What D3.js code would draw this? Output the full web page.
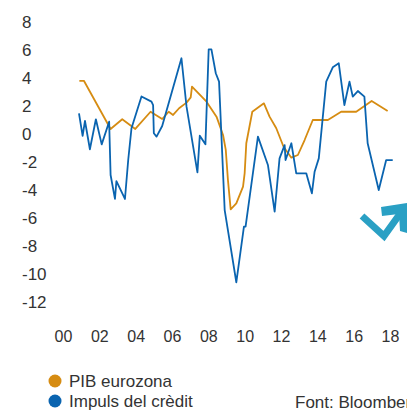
<!DOCTYPE html>
<html>
<head>
<meta charset="utf-8">
<script src="https://cdn.jsdelivr.net/npm/d3@7"></script>
<style>
    body { margin: 0; background: #fff; }
    #chart-area { width: 407px; height: 411px; overflow: hidden; }
    text { font-family: "Liberation Sans", Arial, sans-serif; fill: #333; }
</style>
</head>
<body>
<div id="chart-area"></div>
<script>

// Data (x = year, y = %)
const pibYears = [2000.90, 2001.15, 2002.62, 2003.26, 2003.98, 2004.82, 2005.46, 2005.82, 2006.06, 2006.39,
    2006.80, 2007.03, 2007.10, 2007.90, 2008.45, 2008.81, 2008.96, 2009.08, 2009.23, 2009.54,
    2009.91, 2010.00, 2010.09, 2010.42, 2011.06, 2011.37, 2011.74, 2012.14, 2012.57, 2012.93,
    2013.30, 2013.75, 2014.58, 2015.31, 2016.14, 2016.99, 2017.87];
const pibValues = [3.8, 3.8, 0.36, 1.05, 0.36, 1.59, 1.07, 1.59, 1.36, 1.84,
    2.24, 2.62, 3.38, 2.31, 1.24, -0.07, -1.14, -3.29, -5.38, -4.95,
    -3.76, -2.79, -0.66, 1.59, 2.19, 1.24, 0.41, -0.91, -1.69, -1.5,
    -0.43, 1.0, 1.0, 1.59, 1.59, 2.36, 1.64];

const creditYears = [2000.88, 2001.08, 2001.21, 2001.48, 2001.81, 2002.13, 2002.54, 2002.62, 2002.86, 2002.94,
    2003.41, 2003.59, 2003.77, 2004.32, 2004.87, 2004.96, 2005.00, 2005.15, 2005.46, 2006.52,
    2006.80, 2007.40, 2007.53, 2007.84, 2008.02, 2008.17, 2008.41, 2008.59, 2008.90, 2009.54,
    2009.96, 2010.05, 2010.73, 2011.28, 2011.65, 2011.92, 2012.20, 2012.25, 2012.57, 2012.84,
    2013.39, 2013.70, 2013.85, 2014.08, 2014.49, 2014.85, 2015.18, 2015.49, 2015.77, 2015.95,
    2016.23, 2016.59, 2016.77, 2017.38, 2017.79, 2018.15];
const creditValues = [1.48, -0.14, 0.93, -1.09, 1.05, -0.74, 0.88, -2.93, -4.64, -3.36,
    -4.64, -1.86, 0.41, 2.68, 2.31, 2.07, 0.05, -0.19, 0.57, 5.41,
    1.95, -2.74, -0.12, -0.74, 6.05, 6.05, 4.34, 3.74, -5.43, -10.59,
    -6.62, -6.62, -0.19, -2.21, -5.55, -1.74, -0.79, -1.86, -0.66, -2.81,
    -2.81, -4.24, -2.69, -1.74, 3.74, 4.76, 5.05, 2.07, 3.74, 2.67,
    3.07, 2.67, -0.66, -4.0, -1.86, -1.86];

const xTicks = [2000, 2002, 2004, 2006, 2008, 2010, 2012, 2014, 2016, 2018];
const xTickLabels = ["00", "02", "04", "06", "08", "10", "12", "14", "16", "18"];
const yTicks = [8, 6, 4, 2, 0, -2, -4, -6, -8, -10, -12];

const seriesNames = ["PIB eurozona", "Impuls del crèdit"];
const seriesColors = ["#d68c12", "#0a64b0"];
const sourceText = "Font: Bloomberg";


class LineChart {

    constructor(parentElement) {
        this.parentElement = parentElement;
        this.initVis();
    }

    initVis() {
        let vis = this;

        vis.width = 407;
        vis.height = 411;

        vis.svg = d3.select("#" + vis.parentElement).append("svg")
            .attr("width", vis.width)
            .attr("height", vis.height);

        // Scales
        vis.x = d3.scaleLinear()
            .domain([2000, 2018])
            .range([63, 390]);
        vis.y = d3.scaleLinear()
            .domain([-12, 8])
            .range([302, 22]);

        vis.line = d3.line()
            .x((d) => vis.x(d[0]))
            .y((d) => vis.y(d[1]));

        vis.updateVis();
    }

    updateVis() {
        let vis = this;

        // Y axis labels (left-aligned)
        let yAxis = vis.svg.append("g")
            .attr("transform", "translate(22,0)")
            .call(d3.axisLeft(vis.y).tickValues(yTicks).tickSize(0).tickFormat((d) => d));
        yAxis.select(".domain").remove();
        yAxis.selectAll("text")
            .attr("x", 0)
            .attr("text-anchor", "start")
            .style("font-size", "17px")
            .attr("fill", "#333");

        // X axis labels
        let xAxis = vis.svg.append("g")
            .attr("transform", "translate(0,328)")
            .call(d3.axisBottom(vis.x).tickValues(xTicks).tickSize(0)
                .tickFormat((d, i) => xTickLabels[i]));
        xAxis.select(".domain").remove();
        xAxis.selectAll("text")
            .style("font-size", "16px")
            .attr("fill", "#333");
        vis.svg.selectAll(".tick text").attr("font-family", null);

        // Lines
        let pib = pibYears.map((d, i) => [d, pibValues[i]]);
        let credit = creditYears.map((d, i) => [d, creditValues[i]]);

        vis.svg.append("path")
            .datum(pib)
            .attr("fill", "none")
            .attr("stroke", seriesColors[0])
            .attr("stroke-width", 1.8)
            .attr("stroke-linejoin", "round")
            .attr("d", vis.line);

        vis.svg.append("path")
            .datum(credit)
            .attr("fill", "none")
            .attr("stroke", seriesColors[1])
            .attr("stroke-width", 1.8)
            .attr("stroke-linejoin", "round")
            .attr("d", vis.line);

        // Arrow icon
        let arrow = vis.svg.append("g");
        arrow.append("polyline")
            .attr("points", "362,216 384,236 402,211")
            .attr("fill", "none")
            .attr("stroke", "#2aa0c4")
            .attr("stroke-width", 7);
        arrow.append("polygon")
            .attr("points", "381,207 407,203 407,233 400,231 399,214 382,216")
            .attr("fill", "#2aa0c4");

        // Legend
        let legend = vis.svg.append("g");
        seriesNames.forEach((name, i) => {
            let cy = 381 + i * 20;
            legend.append("circle")
                .attr("cx", 55)
                .attr("cy", cy)
                .attr("r", 6.5)
                .attr("fill", seriesColors[i]);
            legend.append("text")
                .attr("x", 69)
                .attr("y", cy + 5.8)
                .style("font-size", "17px")
                .text(name);
        });

        vis.svg.append("text")
            .attr("x", 295)
            .attr("y", 407.5)
            .style("font-size", "17px")
            .text(sourceText);
    }
}

new LineChart("chart-area");

</script>
</body>
</html>
